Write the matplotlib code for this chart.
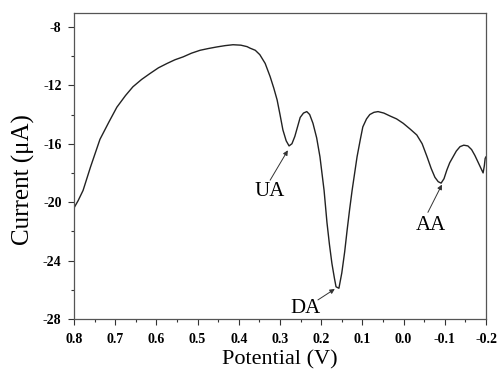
import matplotlib
matplotlib.use("Agg")
from matplotlib import pyplot as plt
from matplotlib.ticker import MultipleLocator

# potential (V) and current (uA)
potential = [
    0.800, 0.790, 0.778, 0.760, 0.737, 0.715, 0.696, 0.675, 0.657, 0.636,
    0.616, 0.595, 0.574, 0.555, 0.535, 0.515, 0.494, 0.474, 0.453, 0.433,
    0.414, 0.395, 0.380, 0.373, 0.360, 0.349, 0.336, 0.324, 0.315, 0.307,
    0.300, 0.293, 0.285, 0.278, 0.271, 0.264, 0.257, 0.251, 0.243, 0.235,
    0.228, 0.220, 0.211, 0.203, 0.193, 0.186, 0.180, 0.174, 0.168, 0.164,
    0.157, 0.150, 0.143, 0.137, 0.131, 0.125, 0.113, 0.105, 0.099, 0.090,
    0.082, 0.072, 0.062, 0.048, 0.033, 0.017, 0.001, -0.016, -0.032, -0.045,
    -0.057, -0.067, -0.076, -0.084, -0.091, -0.098, -0.105, -0.112, -0.120, -0.128,
    -0.137, -0.146, -0.156, -0.165, -0.173, -0.183, -0.193, -0.196, -0.198, -0.200,
]
current = [
    -20.4, -19.9, -19.2, -17.6, -15.7, -14.5, -13.5, -12.7, -12.1, -11.6,
    -11.2, -10.8, -10.5, -10.25, -10.05, -9.8, -9.6, -9.48, -9.37, -9.28,
    -9.22, -9.25, -9.35, -9.45, -9.6, -9.9, -10.5, -11.4, -12.2, -13.0,
    -14.0, -15.05, -15.8, -16.15, -16.0, -15.5, -14.8, -14.2, -13.9, -13.8,
    -14.0, -14.6, -15.6, -16.9, -19.2, -21.4, -22.9, -24.2, -25.2, -25.8,
    -25.9, -24.85, -23.4, -21.9, -20.5, -19.2, -16.9, -15.7, -14.85, -14.3,
    -14.0, -13.85, -13.8, -13.9, -14.1, -14.3, -14.6, -15.0, -15.4, -16.0,
    -16.9, -17.7, -18.3, -18.6, -18.7, -18.4, -17.8, -17.3, -16.9, -16.5,
    -16.2, -16.1, -16.15, -16.4, -16.8, -17.4, -18.0, -17.5, -17.0, -16.9,
]

# peak labels: name, arrow tip, arrow tail, text centre (V, uA)
peak_names = ["UA", "DA", "AA"]
peak_tips = [(0.281, -16.45), (0.167, -25.95), (-0.093, -18.8)]
peak_tails = [(0.324, -18.5), (0.208, -26.7), (-0.059, -20.7)]
peak_texts = [(0.324, -19.3), (0.238, -27.3), (-0.067, -21.6)]

x_ticks = [0.8, 0.7, 0.6, 0.5, 0.4, 0.3, 0.2, 0.1, 0.0, -0.1, -0.2]
y_ticks = [-28, -24, -20, -16, -12, -8]

plt.rcParams["font.family"] = ["Liberation Serif", "DejaVu Serif"]

fig = plt.figure(figsize=(5.0, 3.73), dpi=100)
ax = fig.add_axes([0.148, 0.145, 0.824, 0.82])

ax.plot(potential, current, color="#222222", linewidth=1.0)

for name, tip, tail, txt in zip(peak_names, peak_tips, peak_tails, peak_texts):
    ax.annotate("", xy=tip, xytext=tail,
                arrowprops=dict(arrowstyle="-|>", color="#333333", lw=0.7,
                                mutation_scale=7, shrinkA=0, shrinkB=0))
    ax.text(txt[0], txt[1], name, ha="center", va="center", fontsize=15)

ax.set_xlim(0.8, -0.2)
ax.set_ylim(-28, -7.05)
ax.set_xticks(x_ticks)
ax.set_yticks(y_ticks)
ax.xaxis.set_minor_locator(MultipleLocator(0.05))
ax.yaxis.set_minor_locator(MultipleLocator(2))
ax.set_xticklabels(["{:.1f}".format(v) for v in x_ticks], fontweight="bold")
ax.set_yticklabels([str(v) for v in y_ticks], fontweight="bold")
ax.tick_params(which="both", direction="out", top=False, right=False,
               labelsize=10, color="#333333", width=0.8)
ax.tick_params(axis="x", pad=6)
ax.tick_params(axis="y", pad=5)
ax.tick_params(which="major", length=4)
ax.tick_params(which="minor", length=2.5)
for s in ax.spines.values():
    s.set_color("#555555")
    s.set_linewidth(0.9)

ax.set_xlabel("Potential (V)", fontsize=16, labelpad=3)
ax.set_ylabel("Current (μA)", fontsize=18)
ax.yaxis.set_label_coords(-0.095, 0.455)

fig.savefig("out.png", dpi=100)
